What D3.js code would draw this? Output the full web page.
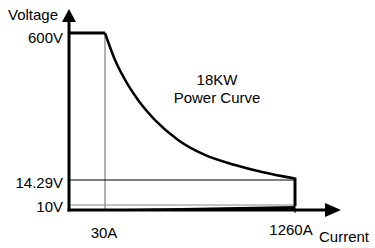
<!DOCTYPE html>
<html lang="en">
<head>
    <meta charset="UTF-8">
    <title>18KW Power Curve</title>
    <script src="https://d3js.org/d3.v7.min.js"></script>
    <style>
        body { margin: 0; background: #fff; }
        svg { display: block; font-family: "Liberation Sans", Arial, sans-serif; font-size: 15px; }
    </style>
</head>
<body>
    <svg id="chart" width="375" height="248"></svg>
    <script>
        // values
        const currentTicks = [30, 1260];          // A
        const voltageTicks = [600, 14.29, 10];    // V
        const currentLabels = ["30A", "1260A"];
        const voltageLabels = ["600V", "14.29V", "10V"];
        // power curve points [current, voltage] (schematic shape)
        const curveCurrent = [30, 95, 179, 244, 354, 503, 677, 872, 1046, 1260];
        const curveVoltage = [600, 492, 393, 333, 253, 174, 114, 74, 46, 20];
        const maxCurrent = 1260, maxVoltage = 600, minVoltage = 10, kneeCurrent = 30;

        const svg = d3.select("#chart");

        // schematic (piecewise) scales
        const x = d3.scaleLinear().domain([0, 30, 1260]).range([69, 105, 295]);
        const y = d3.scaleLinear().domain([0, 10, 14.29, 600]).range([210, 205, 180, 33]);

        // thin guide lines
        svg.append("line")
            .attr("x1", x(kneeCurrent)).attr("x2", x(kneeCurrent))
            .attr("y1", y(maxVoltage)).attr("y2", y(0))
            .attr("stroke", "#666").attr("stroke-width", 1);
        svg.append("line")
            .attr("x1", x(0)).attr("x2", x(maxCurrent))
            .attr("y1", y(14.29)).attr("y2", y(14.29))
            .attr("stroke", "#000").attr("stroke-width", 1);
        svg.append("line")
            .attr("x1", x(0)).attr("x2", x(maxCurrent))
            .attr("y1", y(minVoltage)).attr("y2", y(minVoltage))
            .attr("stroke", "#888").attr("stroke-width", 1);
        svg.append("line")
            .attr("x1", x(maxCurrent)).attr("x2", x(maxCurrent))
            .attr("y1", y(14.29)).attr("y2", y(0) + 3)
            .attr("stroke", "#000").attr("stroke-width", 1);

        // bottom wedge (0 V -> 8 V)
        svg.append("path")
            .attr("d", d3.line()([[x(0), y(0)], [x(maxCurrent), y(0)], [x(maxCurrent), y(8)]]) + "Z")
            .attr("fill", "#000");

        // 600V limit
        svg.append("line")
            .attr("x1", x(0)).attr("x2", x(kneeCurrent))
            .attr("y1", y(maxVoltage)).attr("y2", y(maxVoltage))
            .attr("stroke", "#000").attr("stroke-width", 3);

        // power curve
        const pts = curveCurrent.map((c, i) => [c, curveVoltage[i]]);
        svg.append("path")
            .datum(pts)
            .attr("d", d3.line().x(d => x(d[0])).y(d => y(d[1])).curve(d3.curveMonotoneX))
            .attr("fill", "none")
            .attr("stroke", "#000")
            .attr("stroke-width", 2.5);

        // 1260A limit
        svg.append("line")
            .attr("x1", x(maxCurrent)).attr("x2", x(maxCurrent))
            .attr("y1", y(20) - 1).attr("y2", y(8))
            .attr("stroke", "#000").attr("stroke-width", 3);

        // axes with arrows
        svg.append("line")
            .attr("x1", x(0)).attr("x2", x(0))
            .attr("y1", y(0) + 1.5).attr("y2", 20)
            .attr("stroke", "#000").attr("stroke-width", 3);
        svg.append("path")
            .attr("d", `M${x(0)},9L${x(0) - 7},22L${x(0) + 7},22Z`)
            .attr("fill", "#000");
        svg.append("line")
            .attr("x1", x(0) - 1.5).attr("x2", 326)
            .attr("y1", y(0)).attr("y2", y(0))
            .attr("stroke", "#000").attr("stroke-width", 3);
        svg.append("path")
            .attr("d", `M341,${y(0)}L325,${y(0) - 7}L325,${y(0) + 7}Z`)
            .attr("fill", "#000");

        // tick labels
        svg.selectAll(".vlab")
            .data(voltageTicks)
            .join("text")
            .attr("x", 63)
            .attr("y", (d, i) => y(d) + [10, 8, 7][i])
            .attr("text-anchor", "end")
            .text((d, i) => voltageLabels[i]);
        svg.selectAll(".clab")
            .data(currentTicks)
            .join("text")
            .attr("x", (d, i) => x(d) + [-1, -4][i])
            .attr("y", (d, i) => [238, 235][i])
            .attr("text-anchor", "middle")
            .text((d, i) => currentLabels[i]);

        // axis titles
        svg.append("text").attr("x", 8).attr("y", 20).text("Voltage");
        svg.append("text").attr("x", 319).attr("y", 242).text("Current");

        // annotation
        svg.append("text").attr("x", 217).attr("y", 85).attr("text-anchor", "middle").text("18KW");
        svg.append("text").attr("x", 217).attr("y", 103).attr("text-anchor", "middle").text("Power Curve");
    </script>
</body>
</html>
